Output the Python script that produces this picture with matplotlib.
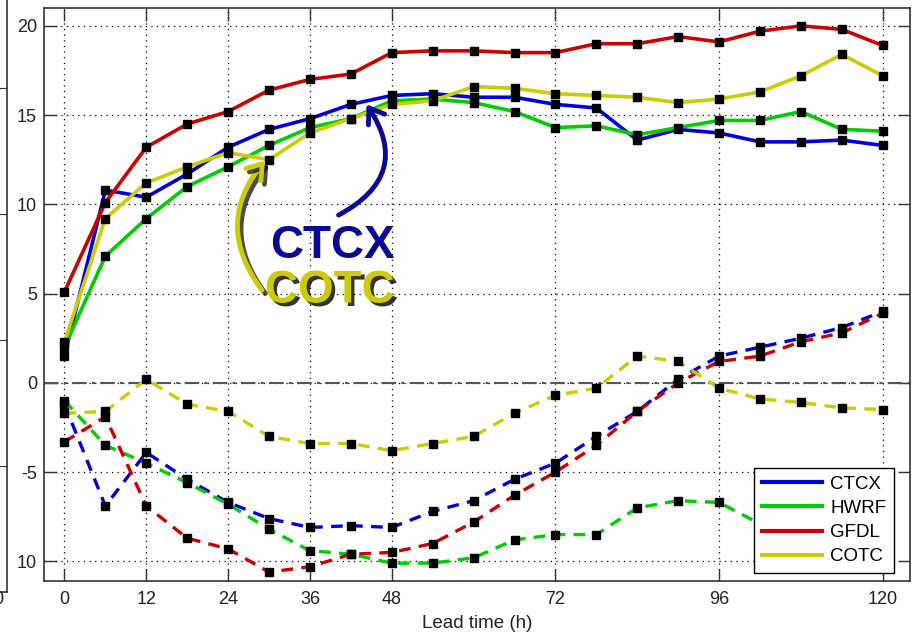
import matplotlib
matplotlib.use("Agg")
import matplotlib.pyplot as plt
import matplotlib.patheffects as pe
from matplotlib.lines import Line2D

plt.rcParams['font.family'] = ['Liberation Sans', 'DejaVu Sans']

# lead times (h)
hours = [0, 6, 12, 18, 24, 30, 36, 42, 48, 54, 60, 66, 72, 78, 84, 90, 96, 102, 108, 114, 120]
xticks = [0, 12, 24, 36, 48, 72, 96, 120]
yticks = [-10, -5, 0, 5, 10, 15, 20]
ytick_labels = ['10', '-5', '0', '5', '10', '15', '20']

# absolute error (solid)
ctcx_mae = [1.5, 10.8, 10.4, 11.7, 13.2, 14.2, 14.8, 15.6, 16.1, 16.2, 16.0, 16.0, 15.6, 15.4, 13.6, 14.2, 14.0, 13.5, 13.5, 13.6, 13.3]
hwrf_mae = [2.0, 7.1, 9.2, 11.0, 12.1, 13.3, 14.3, 14.8, 15.8, 15.9, 15.7, 15.2, 14.3, 14.4, 13.9, 14.3, 14.7, 14.7, 15.2, 14.2, 14.1]
gfdl_mae = [5.1, 10.1, 13.2, 14.5, 15.2, 16.4, 17.0, 17.3, 18.5, 18.6, 18.6, 18.5, 18.5, 19.0, 19.0, 19.4, 19.1, 19.7, 20.0, 19.8, 18.9]
cotc_mae = [2.3, 9.2, 11.2, 12.1, 12.9, 12.5, 14.0, 14.8, 15.6, 15.8, 16.6, 16.5, 16.2, 16.1, 16.0, 15.7, 15.9, 16.3, 17.2, 18.4, 17.2]

# bias (dashed)
ctcx_bias = [-1.2, -6.9, -3.9, -5.4, -6.7, -7.6, -8.1, -8.0, -8.1, -7.2, -6.6, -5.4, -4.5, -3.0, -1.6, 0.2, 1.5, 2.0, 2.5, 3.1, 4.0]
hwrf_bias = [-1.0, -3.5, -4.5, -5.6, -6.8, -8.2, -9.4, -9.6, -10.1, -10.1, -9.8, -8.8, -8.5, -8.5, -7.0, -6.6, -6.7, -7.9, -8.4, -8.7, -8.9]
gfdl_bias = [-3.3, -1.9, -6.9, -8.7, -9.3, -10.6, -10.3, -9.6, -9.5, -9.0, -7.8, -6.3, -5.0, -3.5, -1.6, 0.0, 1.2, 1.5, 2.3, 2.8, 3.9]
cotc_bias = [-1.7, -1.6, 0.2, -1.2, -1.6, -3.0, -3.4, -3.4, -3.8, -3.4, -3.0, -1.7, -0.7, -0.3, 1.5, 1.2, -0.3, -0.9, -1.1, -1.4, -1.5]

names = ['CTCX', 'HWRF', 'GFDL', 'COTC']
colors = ['#0000dd', '#00cc00', '#cc0000', '#cccc00']
maes = [ctcx_mae, hwrf_mae, gfdl_mae, cotc_mae]
biases = [ctcx_bias, hwrf_bias, gfdl_bias, cotc_bias]

W, H = 914, 637
fig = plt.figure(figsize=(W / 100, H / 100), dpi=100)

# neighbouring panel, mostly cut off at the left edge
axl = fig.add_axes([-0.2, 1 - 592 / H, 0.2 + 7 / W, 592 / H + 0.05])
axl.set_ylim(0, (592 + 0.05 * H) / 126)
axl.set_yticks([1, 2, 3, 4])
axl.set_xticks([])
axl.tick_params(axis='y', direction='in', length=9, right=True, left=False,
                labelleft=False, color='#333333')
for s in axl.spines.values():
    s.set_color('#333333')
    s.set_linewidth(1.2)
fig.text(5 / W, 1 - 600 / H, '120', ha='right', va='center', fontsize=13, color='#222222')

# main panel
ax = fig.add_axes([44 / W, 1 - 581 / H, (910 - 44) / W, (581 - 8) / H])
ax.set_xlim(-3, 124)
ax.set_ylim(-11.1, 21)
ax.set_xticks(xticks)
ax.set_yticks(yticks)
ax.set_yticklabels(ytick_labels)
ax.set_axisbelow(True)
ax.grid(True, color='k', linestyle=(0, (1, 3.5)), lw=0.9)
ax.axhline(0, color='#555555', lw=1.5, linestyle=(0, (7, 2.5, 1.5, 2.5)), zorder=1)

for name, mae, bias, c in zip(names, maes, biases, colors):
    ax.plot(hours, mae, '-', color=c, lw=2.6, marker='s', ms=6, mfc='k', mec='k', zorder=3)
    ax.plot(hours, bias, linestyle=(0, (3.5, 2.5)), color=c, lw=2.4,
            marker='s', ms=6, mfc='k', mec='k', zorder=3)

ax.tick_params(direction='in', length=9, width=1, top=True, right=True,
               labelsize=13, pad=5, labelcolor='#222222', color='#333333')
ax.tick_params(axis='x', pad=7)
for s in ax.spines.values():
    s.set_color('#333333')
    s.set_linewidth(1.2)
ax.set_xlabel('Lead time (h)', fontsize=13.5, color='#222222', labelpad=5)

handles = [Line2D([], [], color=c, lw=3) for c in colors]
leg = ax.legend(handles, names, loc='lower right', bbox_to_anchor=(0.9815, 0.014),
                borderaxespad=0, fontsize=13.5, handlelength=3.2, labelspacing=0.38,
                handletextpad=0.45, borderpad=0.4,
                fancybox=False, framealpha=1, edgecolor='k')
leg.get_frame().set_linewidth(1)
leg.set_zorder(5)

# labels with arrows
ax.text(30.1, 7.0, 'CTCX', color='#0a0a99', fontsize=33, fontweight='bold',
        ha='left', va='baseline', zorder=4)
ax.text(29.4, 4.5, 'COTC', color='#cccc00', fontsize=33, fontweight='bold',
        ha='left', va='baseline', zorder=4,
        path_effects=[pe.withSimplePatchShadow(offset=(2.5, -2.5), shadow_rgbFace='k', alpha=0.8)])

a1 = ax.annotate('', xy=(44.3, 15.6), xytext=(40.2, 9.4),
                 arrowprops=dict(arrowstyle='->,head_length=0.5,head_width=0.35',
                                 color='#0a0a99', lw=3.5, mutation_scale=20,
                                 shrinkA=0, shrinkB=0,
                                 connectionstyle='arc3,rad=0.55'), zorder=4)
a2 = ax.annotate('', xy=(29.4, 12.45), xytext=(28.95, 5.2),
                 arrowprops=dict(arrowstyle='->,head_length=0.5,head_width=0.35',
                                 color='#cccc00', lw=3.5, mutation_scale=20,
                                 shrinkA=0, shrinkB=0,
                                 connectionstyle='arc3,rad=-0.39'), zorder=4)
a2.arrow_patch.set_path_effects([pe.SimpleLineShadow(offset=(2.5, -2.5), shadow_color='k', alpha=0.7),
                                 pe.Normal()])

fig.savefig('out.png', dpi=100)
